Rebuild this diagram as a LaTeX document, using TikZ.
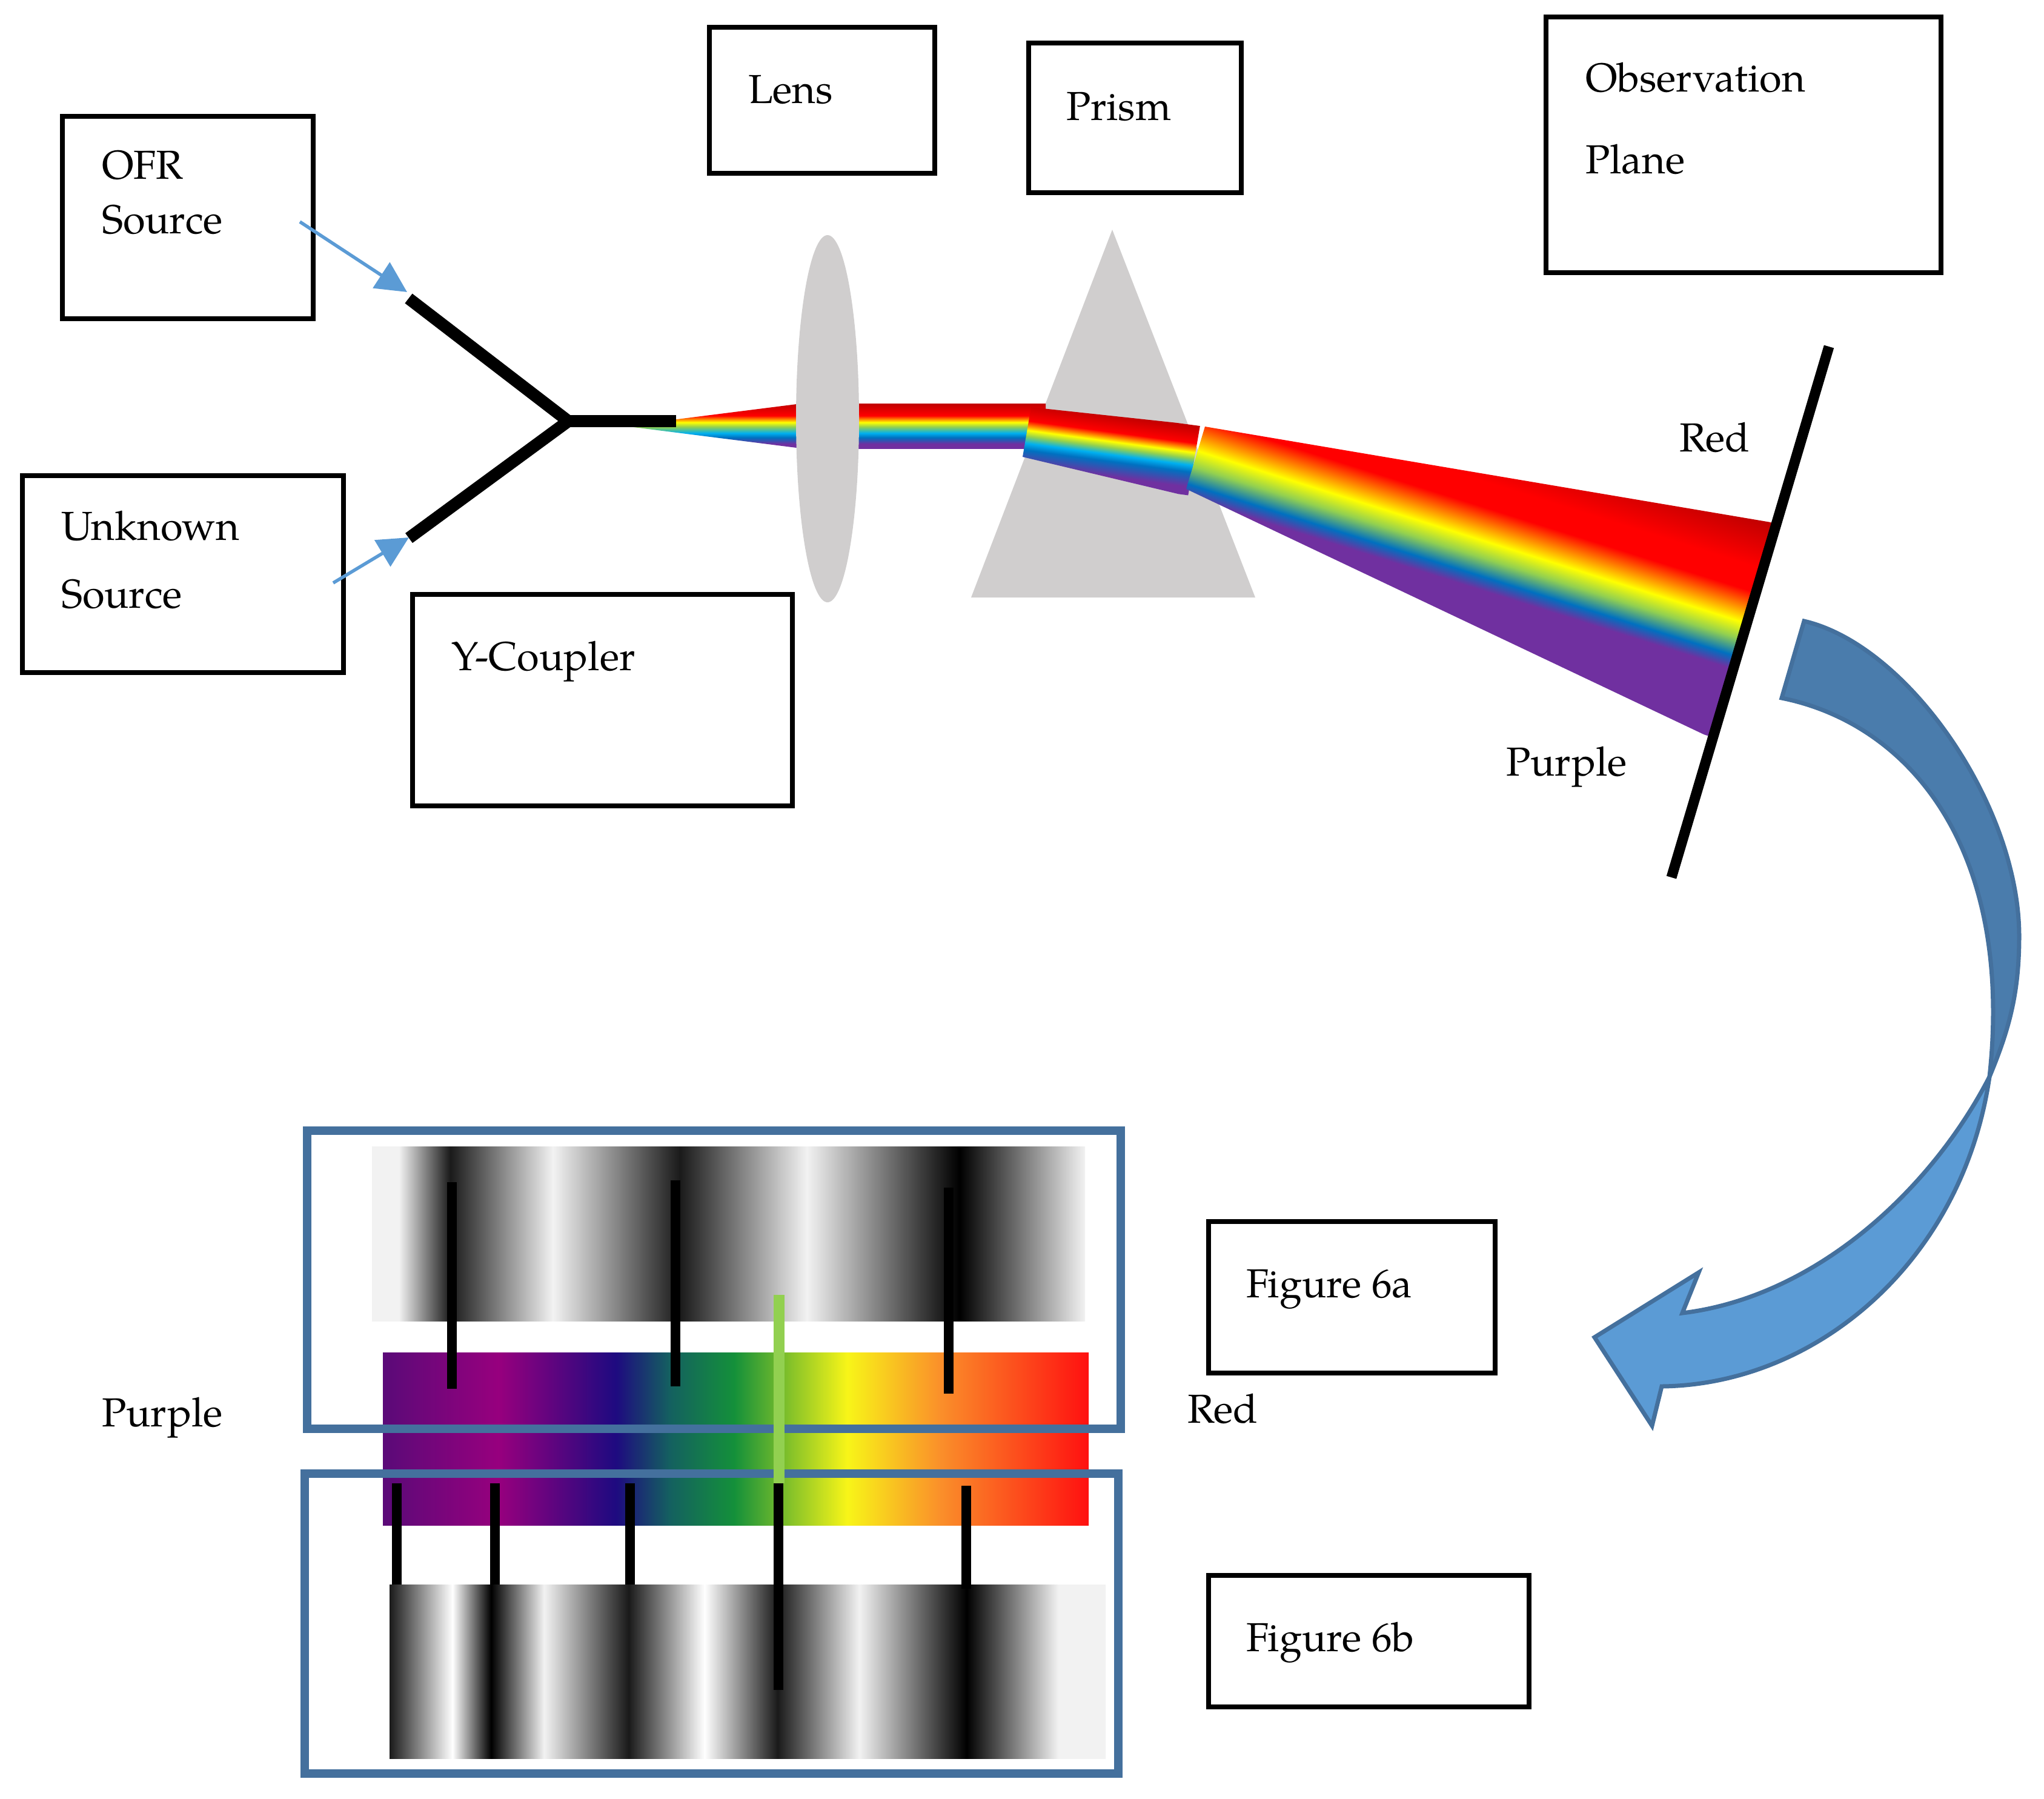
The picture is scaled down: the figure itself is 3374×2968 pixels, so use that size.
\documentclass[tikz,border=0pt]{standalone}
\usepackage{fontspec}
\setmainfont{TeX Gyre Pagella}
\usetikzlibrary{arrows.meta}
\definecolor{dk}{HTML}{C00000}\definecolor{rd}{HTML}{FF0000}\definecolor{yl}{HTML}{FFFF00}
\definecolor{gn}{HTML}{92D050}\definecolor{cy}{HTML}{00B0F0}\definecolor{bl}{HTML}{0070C0}\definecolor{pu}{HTML}{7030A0}
\definecolor{glass}{HTML}{D0CECE}\definecolor{ribbonedge}{HTML}{44709D}\definecolor{ribbondark}{HTML}{4A7CAC}\definecolor{ribbonlight}{HTML}{5B9BD5}
\definecolor{gA}{HTML}{F2F2F2}\definecolor{gB}{HTML}{1A1A1A}
\pgfdeclareverticalshading{beamH}{100bp}{color(0bp)=(pu);color(25bp)=(pu);color(30bp)=(pu);color(37bp)=(bl);color(42bp)=(cy);color(49bp)=(gn);color(54bp)=(yl);color(61.5bp)=(rd);color(75bp)=(dk);color(100bp)=(dk)}
\pgfdeclareverticalshading{beamP}{100bp}{color(0bp)=(pu);color(25bp)=(pu);color(31bp)=(pu);color(41.65bp)=(bl);color(46.5bp)=(cy);color(51.5bp)=(gn);color(55.75bp)=(yl);color(62.5bp)=(rd);color(75bp)=(dk);color(100bp)=(dk)}
\pgfdeclareverticalshading{beamO}{100bp}{color(0bp)=(pu);color(25bp)=(pu);color(41bp)=(pu);color(44bp)=(bl);color(48bp)=(gn);color(51.75bp)=(yl);color(59bp)=(rd);color(64.5bp)=(rd);color(75bp)=(dk);color(100bp)=(dk)}
\pgfdeclarehorizontalshading{stripA}{100bp}{color(0bp)=(gA);color(25bp)=(gA);color(26.9bp)=(gA);color(30.5bp)=(gB);color(37.7bp)=(gA);color(46.6bp)=(gB);color(55.5bp)=(gA);color(66.2bp)=(black);color(75bp)=(gA);color(100bp)=(gA)}
\pgfdeclarehorizontalshading{stripB}{100bp}{color(0bp)=(gB);color(25bp)=(gB);color(29.4bp)=(white);color(32.1bp)=(black);color(35.8bp)=(gA);color(41.7bp)=(gB);color(47bp)=(white);color(52.1bp)=(gB);color(57.8bp)=(gA);color(65.3bp)=(black);color(71.7bp)=(gA);color(75bp)=(gA);color(100bp)=(gA)}
\definecolor{s1}{HTML}{5A0A78}\definecolor{s2}{HTML}{97007E}\definecolor{s3}{HTML}{1E0A80}\definecolor{s4}{HTML}{146060}\definecolor{s5}{HTML}{14903A}\definecolor{s6}{HTML}{F8F518}\definecolor{s7}{HTML}{FA8F2A}\definecolor{s8}{HTML}{FF1010}
\pgfdeclarehorizontalshading{spectrum}{100bp}{color(0bp)=(s1);color(25bp)=(s1);color(33.2bp)=(s2);color(41.5bp)=(s3);color(45.3bp)=(s4);color(49.9bp)=(s5);color(57.9bp)=(s6);color(64.5bp)=(s7);color(75bp)=(s8);color(100bp)=(s8)}
\newcommand{\beamfill}[6]{%
  \begin{scope}\clip #1;
    \begin{scope}[transform canvas={rotate around={#4:(#2,#3)}}]
      \shade[shading=#6] ({#2-1500},#3) rectangle ({#2+1500},{#3+#5});
    \end{scope}
  \end{scope}}
\tikzset{
  boxline/.style={draw=black,line width=.075cm},
  lab/.style={anchor=base west,inner sep=0pt,outer sep=0pt,font=\fontsize{19}{23}\selectfont},
  thinarrow/.style={draw=ribbonlight,line width=.055cm,-{Triangle[length=.51cm,width=.5cm,fill=ribbonlight]}},
  fibre/.style={draw=black,line width=.2cm},
  marker/.style={draw=black,line width=.16cm},
  framebox/.style={draw=ribbonedge,line width=.14cm},
  ribbon/.style={draw=ribbonedge,line width=.07cm,line join=miter},
}
\begin{document}
\begin{tikzpicture}[x=.01cm,y=-.01cm]
\useasboundingbox (0,0) rectangle (3374,2968);
% prism
\fill[glass] (1836,379) -- (2072,986) -- (1603,986) -- cycle;
% beams
\beamfill{(1030,703)--(1315,667)--(1315,739)--cycle}{1000}{666}{0}{74}{beamH}
\beamfill{(1410,666)--(1726,666)--(1726,740)--(1410,740)--cycle}{1000}{666}{0}{74}{beamH}
\beamfill{(1702,672)--(1981,702)--(1961,819)--(1688,754)--cycle}{1696}{665}{-7.6}{116}{beamP}
\beamfill{(1989,704)--(2935,864)--(2825,1218)--(1958,807)--cycle}{1989}{569}{-17.43}{367}{beamO}
% lens
\fill[glass] (1366,691) ellipse [x radius=52,y radius=303];
% coupler
\coordinate (yu) at (674.5,492.5);
\coordinate (yl) at (675,888);
\coordinate (yj) at (938,695);
\coordinate (ye) at (1116,695);
\draw[fibre] (yu) -- (yj) -- (yl);
\draw[fibre] (yj) -- (ye);
% screen
\coordinate (pa) at (3019,572);
\coordinate (pb) at (2759,1448);
\draw[draw=black,line width=.17cm] (pa) -- (pb);
% boxes
\draw[boxline] (103,192) rectangle (517,526);
\draw[boxline] (37,785) rectangle (567,1110);
\draw[boxline] (681,981) rectangle (1308,1330);
\draw[boxline] (1171,45) rectangle (1543,286);
\draw[boxline] (1698,71) rectangle (2049,318);
\draw[boxline] (2552,28) rectangle (3204,450);
\draw[boxline] (1995,2016) rectangle (2468,2266);
\draw[boxline] (1995,2600) rectangle (2524,2817);
% thin arrows
\coordinate (ofrout) at (495,366);
\coordinate (ofrtip) at (672,482);
\coordinate (unkout) at (550,962);
\coordinate (unktip) at (675,887);
\draw[thinarrow] (ofrout) -- (ofrtip);
\draw[thinarrow] (unkout) -- (unktip);
% labels
\node[lab] (t1) at (168,295) {OFR};
\node[lab] (t2) at (168,385) {Source};
\node[lab] (t3) at (101,891) {Unknown};
\node[lab] (t4) at (101,1003) {Source};
\node[lab] (t5) at (745,1106) {Y-Coupler};
\node[lab] (t6) at (1235,170) {Lens};
\node[lab] (t7) at (1760,198) {Prism};
\node[lab] (t8) at (2617,151) {Observation};
\node[lab] (t9) at (2617,286) {Plane};
\node[lab] (t10) at (2772,745) {Red};
\node[lab] (t11) at (2486,1280) {Purple};
\node[lab] (t12) at (168,2354) {Purple};
\node[lab] (t13) at (1960,2348) {Red};
\node[lab] (t14) at (2057,2141) {Figure 6a};
\node[lab] (t15) at (2057,2725) {Figure 6b};
% curved arrow
\draw[ribbon,fill=ribbondark] (2978,1025) .. controls (3150,1065) and (3333,1330) .. (3333,1545)
  .. controls (3333,1640) and (3316,1700) .. (3284,1777)
  .. controls (3288,1740) and (3290,1705) .. (3290,1670)
  .. controls (3290,1360) and (3130,1190) .. (2941,1152) -- cycle;
\draw[ribbon,fill=ribbonlight] (3284,1777) .. controls (3240,2080) and (3000,2285) .. (2743,2288)
  -- (2727,2353) -- (2632,2207) -- (2804,2100) -- (2777,2167)
  .. controls (3000,2140) and (3190,1960) .. (3284,1777) -- cycle;
% strips
\shade[shading=stripA] (614,1892) rectangle (1791,2180);
\shade[shading=spectrum] (632,2232) rectangle (1797,2517);
\shade[shading=stripB] (643,2615) rectangle (1825,2902);
% frames
\draw[framebox] (507,1866) rectangle (1850,2358);
\draw[framebox] (503,2432) rectangle (1846,2927);
% markers
\draw[draw=gn,line width=.18cm] (1286,2137) -- (1286,2448);
\draw[marker] (746,1951) -- (746,2292);
\draw[marker] (1115,1948) -- (1115,2288);
\draw[marker] (1566,1960) -- (1566,2300);
\draw[marker] (655,2448) -- (655,2615);
\draw[marker] (817,2448) -- (817,2615);
\draw[marker] (1040,2448) -- (1040,2615);
\draw[marker] (1285,2448) -- (1285,2789);
\draw[marker] (1595,2452) -- (1595,2622);
\end{tikzpicture}
\end{document}
